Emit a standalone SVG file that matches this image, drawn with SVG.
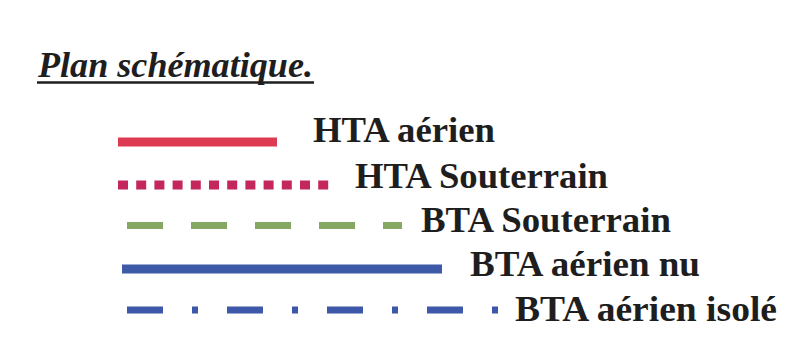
<svg xmlns="http://www.w3.org/2000/svg" width="785" height="341" viewBox="0 0 785 341">
<style>
.lbl{font-family:"Liberation Serif","Times New Roman",serif;font-weight:bold;font-size:36px;fill:#1e1e1e}
.ttl{font-family:"Liberation Serif","Times New Roman",serif;font-weight:bold;font-style:italic;font-size:35px;fill:#1e1e1e}
.ln{fill:none;stroke-linecap:butt}
</style>
<rect width="785" height="341" fill="#ffffff"/>
<g id="title">
<text class="ttl" x="38" y="77" textLength="275" lengthAdjust="spacingAndGlyphs">Plan schématique.</text>
<line x1="37" y1="82.5" x2="314" y2="82.5" stroke="#1e1e1e" stroke-width="2.5"/>
</g>
<g id="hta-aerien">
<line class="ln" x1="118" y1="142" x2="277" y2="142" stroke="#de3b52" stroke-width="9"/>
<text class="lbl" x="313" y="142" textLength="182" lengthAdjust="spacingAndGlyphs">HTA aérien</text>
</g>
<g id="hta-souterrain">
<line class="ln" x1="118" y1="185" x2="329" y2="185" stroke="#c4285a" stroke-width="9" stroke-dasharray="10 8.2"/>
<text class="lbl" x="355" y="188" textLength="253" lengthAdjust="spacingAndGlyphs">HTA Souterrain</text>
</g>
<g id="bta-souterrain">
<line class="ln" x1="127" y1="225.5" x2="402" y2="225.5" stroke="#87a862" stroke-width="7" stroke-dasharray="36 28"/>
<text class="lbl" x="421" y="232" textLength="250" lengthAdjust="spacingAndGlyphs">BTA Souterrain</text>
</g>
<g id="bta-aerien-nu">
<line class="ln" x1="122" y1="269" x2="442" y2="269" stroke="#3d5aa8" stroke-width="9"/>
<text class="lbl" x="470" y="276" textLength="230" lengthAdjust="spacingAndGlyphs">BTA aérien nu</text>
</g>
<g id="bta-aerien-isole">
<line class="ln" x1="127" y1="310" x2="500" y2="310" stroke="#3d58a8" stroke-width="7" stroke-dasharray="36 29 6 29"/>
<text class="lbl" x="515" y="321" textLength="262" lengthAdjust="spacingAndGlyphs">BTA aérien isolé</text>
</g>
</svg>
